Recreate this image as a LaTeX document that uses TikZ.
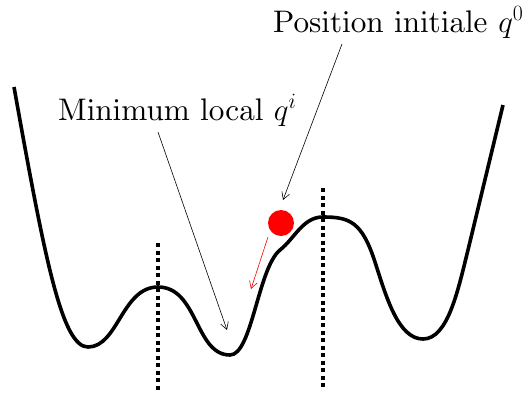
\RequirePackage{fix-cm}
\documentclass[tikz,border=0pt]{standalone}
\usetikzlibrary{arrows.meta}
\font\bigrm=cmr10 at 31.2pt
\begin{document}
\begin{tikzpicture}[x=1pt,y=-1pt,
  curve/.style={line width=3.6pt,line join=round},
  barrier/.style={line width=3.6pt,dash pattern=on 4pt off 3.5pt},
  lbl/.style={anchor=base west,inner sep=0pt,font=\fontsize{31.2}{37}\selectfont\bigrm},
  pointer/.style={line width=0.6pt,-{Straight Barb[length=7pt,width=8pt]}},
  ball/.style={circle,fill=red,minimum size=26pt,inner sep=0pt}]
\useasboundingbox (0,0) rectangle (523,394);
\draw[curve] (14,87) .. controls (45,260) and (62,347) .. (88,347)
  .. controls (118,347) and (122,287) .. (158,287)
  .. controls (198,287) and (195,355) .. (230,355)
  .. controls (252,355) and (258,268) .. (280,250)
  .. controls (295,238) and (303,217) .. (323,217)
  .. controls (350,217) and (362,222) .. (375,262)
  .. controls (386,296) and (398,339) .. (423,339)
  .. controls (448,339) and (458,290) .. (468,250)
  -- (503,105);
\draw[barrier] (158,243) -- (158,392);
\draw[barrier] (323,188) -- (323,390);
\node[ball] (b) at (281,223) {};
\coordinate (rtip) at (251,289);
\draw[red,pointer] (268,237) -- (rtip);
\node[lbl] (tmin) at (58,120) {Minimum local $q^i$};
\node[lbl] (tpos) at (273,32) {Position initiale $q^0$};
\coordinate (minS) at (158,132);
\coordinate (minE) at (227,330);
\coordinate (posS) at (342,44);
\coordinate (posE) at (283,200);
\draw[pointer] (minS) -- (minE);
\draw[pointer] (posS) -- (posE);
\end{tikzpicture}
\end{document}
